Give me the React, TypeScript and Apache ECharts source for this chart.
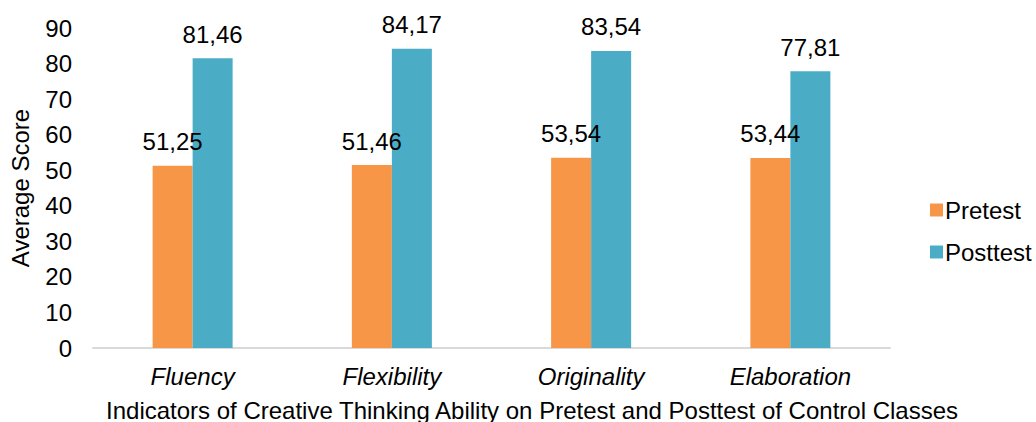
import React, { useEffect, useRef } from "react";
import * as echarts from "echarts";

const categories = ["Fluency", "Flexibility", "Originality", "Elaboration"];
const pretest = [51.25, 51.46, 53.54, 53.44];
const posttest = [81.46, 84.17, 83.54, 77.81];
const seriesNames = ["Pretest", "Posttest"];
const xAxisTitle = "Indicators of Creative Thinking Ability on Pretest and Posttest of Control Classes";
const yAxisTitle = "Average Score";

const FONT = "'Liberation Sans', Arial, sans-serif";
const FS = 24;

export default function App() {
  const ref = useRef<HTMLDivElement>(null);
  useEffect(() => {
    if (!ref.current) return;
    const chart = echarts.init(ref.current, undefined, { renderer: "svg" });
    const labelFmt = (p: any) => Number(p.value).toFixed(2).replace(".", ",");
    chart.setOption({
      animation: false,
      textStyle: { fontFamily: FONT },
      grid: { left: 90, right: 146, top: 28, bottom: 74, containLabel: false },
      legend: {
        orient: "vertical",
        left: 925,
        top: 193,
        itemWidth: 13,
        itemHeight: 13,
        itemGap: 18,
        icon: "rect",
        textStyle: { fontSize: FS, color: "#000", fontFamily: FONT, padding: [0, 0, 0, -3] },
        data: seriesNames,
      },
      xAxis: {
        type: "category",
        data: categories,
        axisLine: { lineStyle: { color: "#d9d9d9", width: 2 } },
        axisTick: { show: false },
        axisLabel: { fontSize: FS, fontStyle: "italic", color: "#000", margin: 16, fontFamily: FONT },
      },
      yAxis: {
        type: "value",
        min: 0,
        max: 90,
        interval: 10,
        name: yAxisTitle,
        nameLocation: "middle",
        nameGap: 61,
        nameTextStyle: { fontSize: FS, color: "#000", fontFamily: FONT },
        axisLine: { show: false },
        axisTick: { show: false },
        splitLine: { show: false },
        axisLabel: { fontSize: FS, color: "#000", margin: 21, fontFamily: FONT },
      },
      series: [
        {
          name: seriesNames[0],
          type: "bar",
          data: pretest,
          barWidth: 40,
          barGap: "0%",
          itemStyle: { color: "#F79646" },
          label: { show: true, position: "top", distance: 12, fontSize: FS, color: "#000", formatter: labelFmt, fontFamily: FONT },
        },
        {
          name: seriesNames[1],
          type: "bar",
          data: posttest,
          barWidth: 40,
          itemStyle: { color: "#4BACC6" },
          label: { show: true, position: "top", distance: 12, fontSize: FS, color: "#000", formatter: labelFmt, fontFamily: FONT },
        },
      ],
      graphic: [
        {
          type: "text",
          x: 532,
          y: 410,
          style: {
            text: xAxisTitle,
            fontSize: FS,
            fill: "#000",
            fontFamily: FONT,
            align: "center",
            verticalAlign: "middle",
          },
        },
      ],
    });
    return () => chart.dispose();
  }, []);
  return <div ref={ref} style={{ width: 1036, height: 422, position: "absolute", left: 0, top: 0 }} />;
}
